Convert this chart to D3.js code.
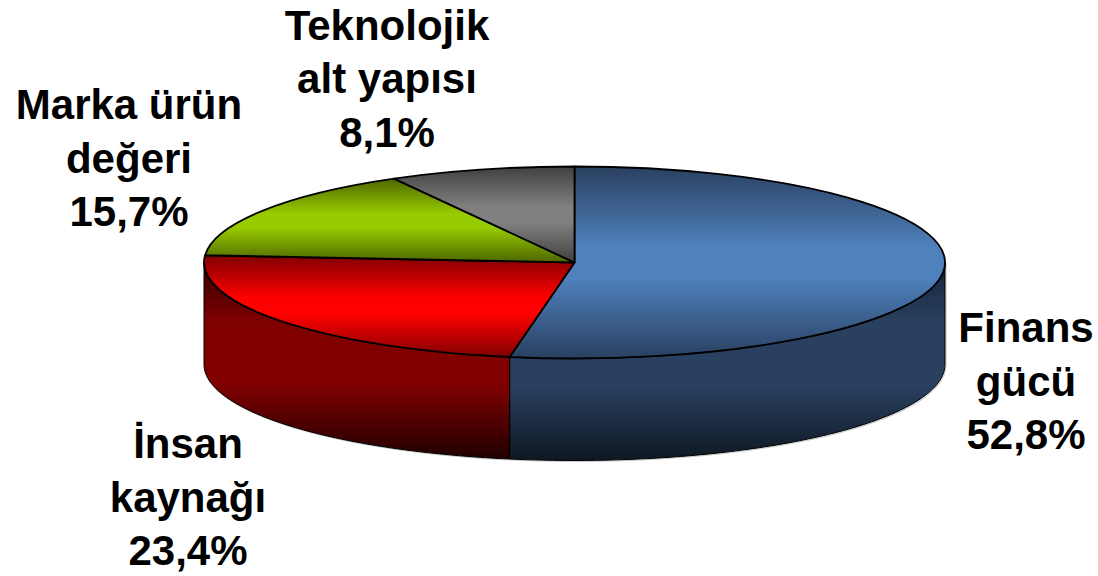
<!DOCTYPE html>
<html><head><meta charset="utf-8">
<script src="https://cdn.jsdelivr.net/npm/d3@7/dist/d3.min.js"></script>
<style>html,body{margin:0;padding:0;background:#fff;overflow:hidden}svg{display:block}</style>
</head><body><svg id="c" width="1098" height="576"></svg>
<script>
const categories = ["Finans gücü", "İnsan kaynağı", "Marka ürün değeri", "Teknolojik alt yapısı"];
const values = [52.8, 23.4, 15.7, 8.1];
const labelLines = [["Finans","gücü","52,8%"],["İnsan","kaynağı","23,4%"],["Marka ürün","değeri","15,7%"],["Teknolojik","alt yapısı","8,1%"]];

const W=1098,H=576, cx=574.5, cy=262.5, rx=370.5, ry=96, depth=102;
const topColors=[["#2a4060","#4f81bd"],["#800000","#ff0000"],["#4d6600","#99cc00"],["#404040","#808080"]];
const sideColors=[["#14233a","#2a4060","#0e1822"],["#300000","#800000","#200000"],["#4d6600","#4d6600","#4d6600"],["#404040","#404040","#404040"]];
const labelPos=[[1026,342],[188,458],[129,119],[387,39.5]];

const svg=d3.select("#c");
const defs=svg.append("defs");
topColors.forEach((c,i)=>{
  const g=defs.append("linearGradient").attr("id","t"+i).attr("x1",0).attr("y1",0).attr("x2",0).attr("y2",1);
  [[0,c[0]],[.42,c[1]],[.58,c[1]],[1,c[0]]].forEach(s=>g.append("stop").attr("offset",s[0]).attr("stop-color",s[1]));
});
sideColors.forEach((c,i)=>{
  const g=defs.append("linearGradient").attr("id","s"+i).attr("x1",0).attr("y1",0).attr("x2",0).attr("y2",1);
  [[0,c[0]],[.3,c[1]],[.62,c[1]],[1,c[2]]].forEach(s=>g.append("stop").attr("offset",s[0]).attr("stop-color",s[1]));
});

const pie=d3.pie().sort(null).value(d=>d);
const arcs=pie(values);
const px=d3.scaleLinear().domain([-1,1]).range([cx-rx,cx+rx]);
const py=d3.scaleLinear().domain([-1,1]).range([cy-ry,cy+ry]);
const line=d3.line().x(d=>px(Math.sin(d))).y(d=>py(-Math.cos(d)));

function sidePath(a){
  const s=Math.max(a.startAngle,Math.PI/2), e=Math.min(a.endAngle,3*Math.PI/2);
  if(e<=s) return null;
  const n=60, ang=d3.range(n+1).map(k=>s+(e-s)*k/n);
  const top=line(ang);
  const bottom=d3.line().x(d=>px(Math.sin(d))).y(d=>py(-Math.cos(d))+depth)(ang.slice().reverse());
  return top+"L"+bottom.slice(1)+"Z";
}
const sides=svg.append("g");
const front=arcs.map((a,i)=>({a,i,d:sidePath(a)})).filter(d=>d.d);
sides.selectAll("path.halo").data(front).join("path").attr("class","halo")
  .attr("d",d=>d.d).attr("transform","translate(1,1)").attr("fill","none").attr("stroke","#c8c8c8").attr("stroke-width",1);
sides.selectAll("path.side").data(front).join("path").attr("class","side")
  .attr("d",d=>d.d).attr("fill",d=>`url(#s${d.i})`).attr("stroke","#000").attr("stroke-width",1);

const arc=d3.arc().innerRadius(0).outerRadius(rx);
svg.append("g").attr("transform",`translate(${cx},${cy}) scale(1,${ry/rx})`)
  .selectAll("path").data(arcs).join("path")
  .attr("d",arc).attr("fill",(d,i)=>`url(#t${i})`)
  .attr("stroke","#000").attr("stroke-width",1.8).attr("stroke-linejoin","round")
  .attr("vector-effect","non-scaling-stroke");

const lab=svg.append("g").attr("font-family","'Liberation Sans',Arial,sans-serif").attr("font-weight","bold").attr("font-size",42).attr("text-anchor","middle").attr("fill","#000");
labelLines.forEach((ls,i)=>{
  lab.selectAll(null).data(ls).join("text").attr("x",labelPos[i][0]).attr("y",(d,k)=>labelPos[i][1]+k*53.7).text(d=>d);
});
</script></body></html>
